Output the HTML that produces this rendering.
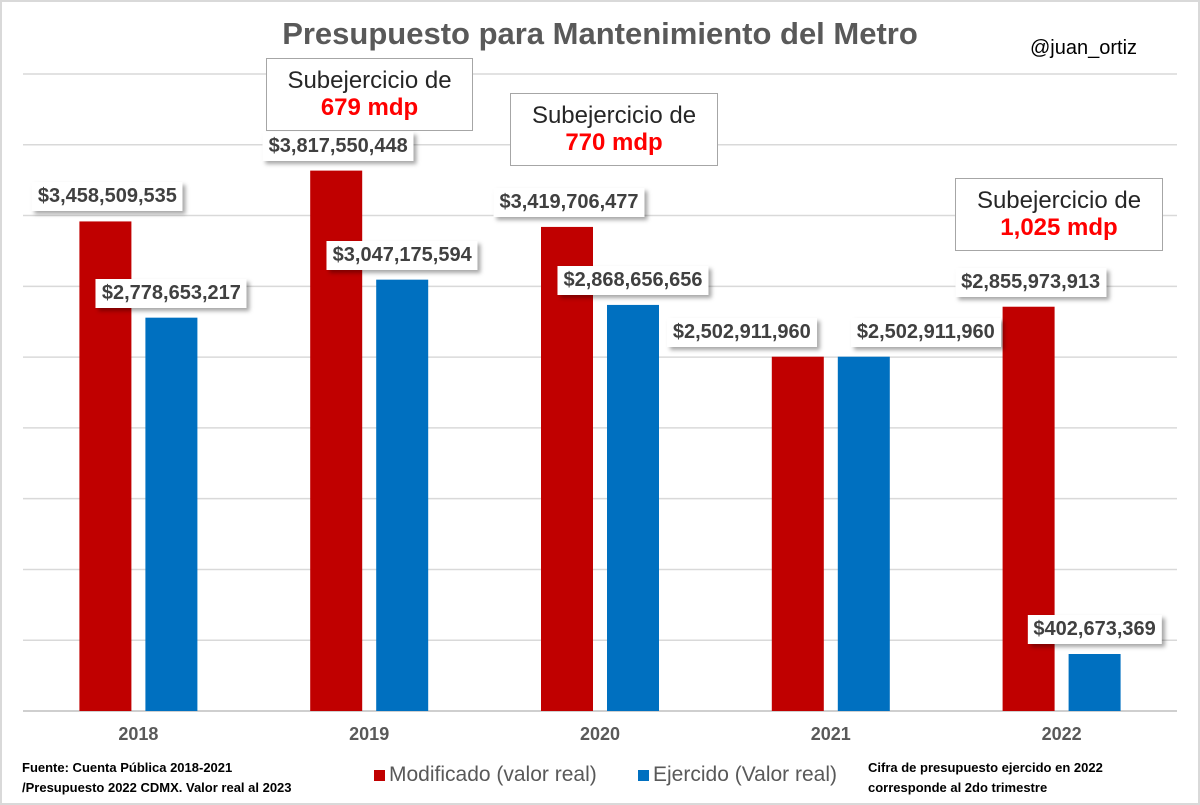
<!DOCTYPE html>
<html><head><meta charset="utf-8">
<style>
body{margin:0;background:#fff;}
#wrap{position:relative;width:1196px;height:801px;border:2px solid #d9d9d9;background:#fff;font-family:"Liberation Sans",sans-serif;overflow:hidden;}
.t{position:absolute;}
.lbl{position:absolute;background:#fff;box-shadow:3px 3px 4px rgba(0,0,0,0.35);font-weight:bold;font-size:20px;color:#404040;padding:3px 6px;white-space:nowrap;transform:translateX(-50%);}
.ann{position:absolute;border:1.5px solid #a6a6a6;background:#fff;text-align:center;font-size:24px;color:#262626;line-height:27px;padding-top:8px;box-sizing:border-box;}
.ann b{color:#ff0000;}
</style></head><body>
<div id="wrap">
<svg id="chart" width="1196" height="801" style="position:absolute;left:0;top:0"></svg>
<div class="t" style="left:0;width:1196px;top:14px;text-align:center;font-size:31px;font-weight:bold;color:#595959;">Presupuesto para Mantenimiento del Metro</div>
<div class="t" style="left:1028px;top:35px;font-size:20px;color:#000;">@juan_ortiz</div>
<div class="ann" style="left:264px;top:56px;width:207px;height:73px;">Subejercicio de<br><b>679 mdp</b></div>
<div class="ann" style="left:508px;top:91px;width:208px;height:73px;">Subejercicio de<br><b>770 mdp</b></div>
<div class="ann" style="left:953px;top:176px;width:208px;height:73px;">Subejercicio de<br><b>1,025 mdp</b></div>
<div class="t" style="left:20px;top:756px;font-size:13px;font-weight:bold;color:#000;line-height:20px;">Fuente: Cuenta Pública 2018-2021<br>/Presupuesto 2022 CDMX. Valor real al 2023</div>
<div class="t" style="left:372px;top:761px;font-size:21px;color:#595959;"><span style="display:inline-block;width:11px;height:11px;background:#c00000;margin-right:4px;"></span>Modificado (valor real)</div>
<div class="t" style="left:636px;top:761px;font-size:21px;color:#595959;"><span style="display:inline-block;width:11px;height:11px;background:#0070c0;margin-right:4px;"></span>Ejercido (Valor real)</div>
<div class="t" style="left:866px;top:756px;font-size:13px;font-weight:bold;color:#000;line-height:20px;">Cifra de presupuesto ejercido en 2022<br>corresponde al 2do trimestre</div>
</div>
<script>
const categories=["2018","2019","2020","2021","2022"];
const modificado=[3458509535,3817550448,3419706477,2502911960,2855973913];
const ejercido=[2778653217,3047175594,2868656656,2502911960,402673369];
const yTicks=[0,500e6,1000e6,1500e6,2000e6,2500e6,3000e6,3500e6,4000e6,4500e6];
const svg=document.getElementById('chart');const wrap=document.getElementById('wrap');
const NS='http://www.w3.org/2000/svg';
const x0=21,x1=1175,y0=709,yMax=4500e6,yTop=72;
const y=v=>y0-(v/yMax)*(y0-yTop);
const bw=(x1-x0)/categories.length;
const cx=i=>x0+bw*(i+0.5);
yTicks.forEach(t=>{const l=document.createElementNS(NS,'line');
l.setAttribute('x1',x0);l.setAttribute('x2',x1);l.setAttribute('y1',y(t));l.setAttribute('y2',y(t));
l.setAttribute('stroke',t===0?'#bfbfbf':'#d9d9d9');l.setAttribute('stroke-width',1.5);


svg.appendChild(l);});
const fmt=v=>'$'+v.toLocaleString('en-US');
function bar(i,v,off,color,name,lblShift){
const r=document.createElementNS(NS,'rect');const w=52;const bx=cx(i)+off-w/2;
r.setAttribute('x',bx);r.setAttribute('y',y(v));r.setAttribute('width',w);r.setAttribute('height',y0-y(v));r.setAttribute('fill',color);


svg.appendChild(r);
const d=document.createElement('div');d.className='lbl';d.textContent=fmt(v);
d.style.left=(cx(i)+off+lblShift)+'px';d.style.top=(y(v)-39)+'px';


wrap.appendChild(d);}
categories.forEach((c,i)=>{
const same=modificado[i]===ejercido[i];
bar(i,modificado[i],-33,'#c00000','modificado',same?-56:2);
bar(i,ejercido[i],33,'#0070c0','ejercido',same?62:0);
const t=document.createElement('div');t.className='t';t.textContent=c;
t.style.left=(cx(i)-40)+'px';t.style.width='80px';t.style.textAlign='center';t.style.top='722px';
t.style.fontSize='18px';t.style.fontWeight='bold';t.style.color='#595959';


wrap.appendChild(t);});
</script>
</body></html>
